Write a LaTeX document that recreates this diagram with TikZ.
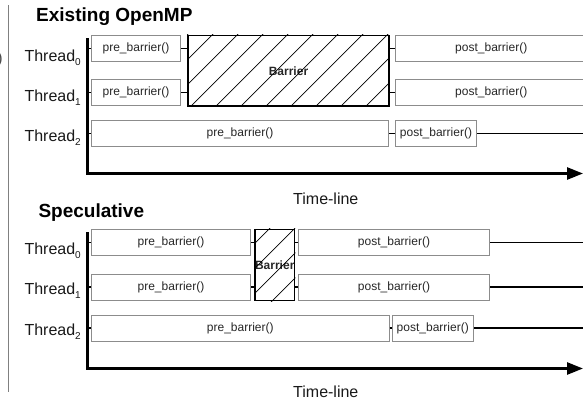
\documentclass[tikz,border=0pt]{standalone}
\usepackage{fontspec}
\setmainfont{Liberation Sans}
\usetikzlibrary{arrows.meta}
\definecolor{boxgray}{gray}{0.55}
\definecolor{leftgray}{gray}{0.5}
\newcommand\thr[1]{Thread\raisebox{-4pt}{\fontsize{10}{10}\selectfont #1}}
\begin{document}
\begin{tikzpicture}[x=1pt,y=-1pt,
  box/.style={draw=boxgray, line width=1pt, inner sep=0pt, minimum height=26pt,
    font=\fontsize{12}{14}\selectfont, text=black!85},
  bar/.style={draw=black, line width=1.8pt, inner sep=0pt,
    font=\fontsize{12}{14}\selectfont\bfseries, text=black!85},
  conn/.style={draw=black, line width=1.3pt},
  axis/.style={draw=black, line width=2.6pt, line join=miter},
  hatch/.style={draw=black, line width=0.7pt},
  lbl/.style={font=\fontsize{16}{18}\selectfont, anchor=base east, inner sep=0pt, text=black!90},
  title/.style={font=\fontsize{19}{22}\selectfont\bfseries, anchor=base west, inner sep=0pt},
  tl/.style={font=\fontsize{16}{18}\selectfont, anchor=base west, inner sep=0pt, text=black!90}]
\useasboundingbox (0,0) rectangle (583,402);

% left margin rule and clipped glyph
\coordinate (g1) at (8.5,5);
\coordinate (g2) at (8.5,392);
\draw[leftgray, line width=1.3pt] (g1) -- (g2);
\node[lbl, text=black!70] (frag) at (3,63) {)};

% ================= Existing OpenMP =================
\node[title] (t1) at (36,21.5) {Existing OpenMP};
\node[lbl] (l0) at (81,61) {\thr{0}};
\node[lbl] (l1) at (81,101) {\thr{1}};
\node[lbl] (l2) at (81,141.5) {\thr{2}};

\coordinate (a1top) at (87.5,38);
\coordinate (a1o) at (87.5,173.5);
\coordinate (a1end) at (583,173.5);
\draw[axis, -{Triangle[length=16pt,width=12pt]}] (a1top) -- (a1o) -- (a1end);

\node[box, minimum width=89pt] (p0) at (136,48.5) {pre\_barrier()};
\node[box, minimum width=89pt] (p1) at (136,92.5) {pre\_barrier()};
\node[box, minimum width=297pt] (p2) at (240,133.5) {pre\_barrier()};

\node[bar, minimum width=201pt, minimum height=70.5pt] (B) at (288.5,70.75) {Barrier};
\begin{scope}
  \clip (B.south west) rectangle (B.north east);
  \foreach \k in {-1,...,10} \draw[hatch] (247.2+25*\k,0) -- ++(-402,402);
\end{scope}

\node[box, minimum width=191.5pt] (q0) at (491.25,48.5) {post\_barrier()};
\node[box, minimum width=191.5pt] (q1) at (491.25,92.5) {post\_barrier()};
\node[box, minimum width=81pt] (q2) at (436,133.5) {post\_barrier()};
\coordinate (e2) at (584,133.5);

\draw[conn] (a1top |- p0.west) -- (p0.west);
\draw[conn] (a1top |- p1.west) -- (p1.west);
\draw[conn] (a1top |- p2.west) -- (p2.west);
\draw[conn] (p0.east) -- (p0.east -| B.west);
\draw[conn] (p1.east) -- (p1.east -| B.west);
\draw[conn] (B.east |- q0.west) -- (q0.west);
\draw[conn] (B.east |- q1.west) -- (q1.west);
\draw[conn] (p2.east) -- (q2.west);
\draw[conn] (q2.east) -- (e2);

\node[tl] (tl1) at (293,204.5) {Time-line};

% ================= Speculative =================
\node[title] (t2) at (38.3,217.7) {Speculative};
\node[lbl] (m0) at (81,254.5) {\thr{0}};
\node[lbl] (m1) at (81,294.5) {\thr{1}};
\node[lbl] (m2) at (81,335) {\thr{2}};

\coordinate (a2top) at (87.5,232);
\coordinate (a2o) at (87.5,368.5);
\coordinate (a2end) at (583,368.5);
\draw[axis, -{Triangle[length=16pt,width=12pt]}] (a2top) -- (a2o) -- (a2end);

\node[box, minimum width=159pt] (s0) at (171,242.5) {pre\_barrier()};
\node[box, minimum width=159pt] (s1) at (171,287) {pre\_barrier()};
\node[box, minimum width=297.5pt] (s2) at (240.25,328) {pre\_barrier()};

\node[bar, minimum width=37.5pt, minimum height=71pt] (SB) at (274.75,265) {Barrier};
\begin{scope}
  \clip (SB.south west) rectangle (SB.north east);
  \foreach \k in {-3,...,3} \draw[hatch] (523+25*\k,0) -- ++(-402,402);
\end{scope}

\node[box, minimum width=191pt] (r0) at (394,242.5) {post\_barrier()};
\node[box, minimum width=191pt] (r1) at (394,287) {post\_barrier()};
\node[box, minimum width=81.5pt] (r2) at (432.75,328) {post\_barrier()};
\coordinate (f0) at (584,242.5);
\coordinate (f1) at (584,287);
\coordinate (f2) at (584,328);

\draw[conn] (a2top |- s0.west) -- (s0.west);
\draw[conn] (a2top |- s1.west) -- (s1.west);
\draw[conn] (a2top |- s2.west) -- (s2.west);
\draw[conn] (s0.east) -- (s0.east -| SB.west);
\draw[conn] (s1.east) -- (s1.east -| SB.west);
\draw[conn] (SB.east |- r0.west) -- (r0.west);
\draw[conn] (SB.east |- r1.west) -- (r1.west);
\draw[conn] (s2.east) -- (r2.west);
\draw[conn] (r0.east) -- (f0);
\draw[conn] (r1.east) -- (f1);
\draw[conn] (r2.east) -- (f2);

\node[tl] (tl2) at (293,397.3) {Time-line};
\end{tikzpicture}
\end{document}
